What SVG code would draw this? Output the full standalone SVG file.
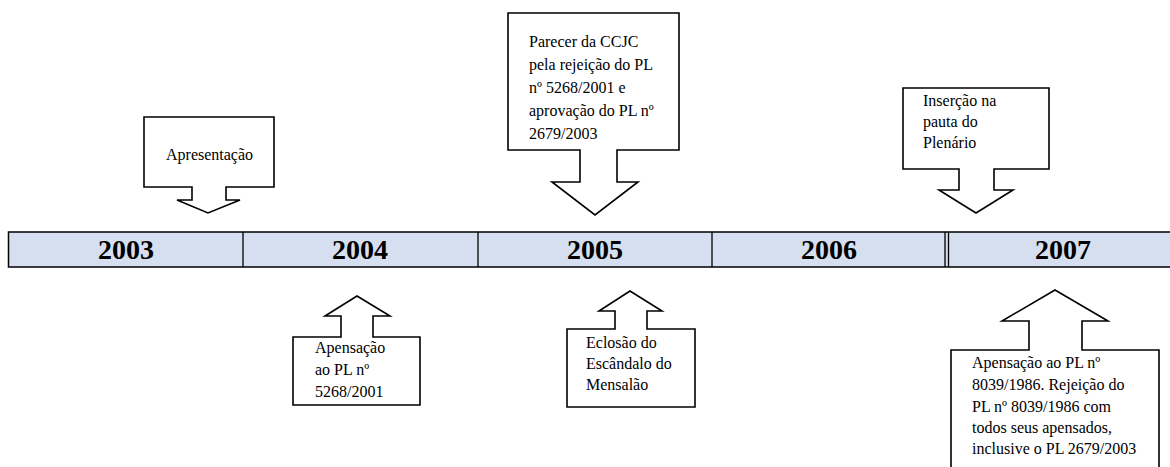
<svg xmlns="http://www.w3.org/2000/svg" width="1170" height="467" viewBox="0 0 1170 467">
<style>
.co{fill:#fff;stroke:#000;stroke-width:1.6;stroke-linejoin:miter}
.t{font-family:"Liberation Serif","Times New Roman",serif;font-size:16px;fill:#000}
.yr{font-family:"Liberation Serif","Times New Roman",serif;font-size:28px;font-weight:bold;fill:#000;text-anchor:middle}
.cell{fill:#D5DFEF;stroke:#000;stroke-width:1.5}
.div{stroke:#000;stroke-width:1.3}
</style>
<rect width="1170" height="467" fill="#fff"/>
<g id="timeline">
<rect class="cell" x="8.5" y="232" width="1175" height="35"/>
<line class="div" x1="243" y1="232" x2="243" y2="267"/>
<line class="div" x1="478" y1="232" x2="478" y2="267"/>
<line class="div" x1="712" y1="232" x2="712" y2="267"/>
<line class="div" x1="945" y1="232" x2="945" y2="267"/>
<line class="div" x1="948.5" y1="232" x2="948.5" y2="267"/>
<text class="yr" x="126" y="259">2003</text>
<text class="yr" x="360" y="259">2004</text>
<text class="yr" x="595" y="259">2005</text>
<text class="yr" x="829" y="259">2006</text>
<text class="yr" x="1063" y="259">2007</text>
</g>
<g id="connectors"></g>
<g id="apresentacao">
<path class="co" d="M144,117 H274 V187 H226 V200 H240 L208,213 L177,200 H192 V187 H144 Z"/>
<text class="t" x="166" y="160">Apresentação</text>
</g>
<g id="parecer">
<path class="co" d="M508,13 H679 V150 H617 V182 H638 L595,215 L552,182 H580 V150 H508 Z"/>
<text class="t" x="529" y="47">Parecer da CCJC</text>
<text class="t" x="529" y="70">pela rejeição do PL</text>
<text class="t" x="529" y="93">nº 5268/2001 e</text>
<text class="t" x="529" y="116">aprovação do PL nº</text>
<text class="t" x="529" y="139">2679/2003</text>
</g>
<g id="insercao">
<path class="co" d="M903,88 H1049 V169 H994 V190 H1013 L976,213 L939,190 H959 V169 H903 Z"/>
<text class="t" x="923" y="106">Inserção na</text>
<text class="t" x="923" y="127">pauta do</text>
<text class="t" x="923" y="148">Plenário</text>
</g>
<g id="apensacao2004">
<path class="co" d="M293,337 H341 V316 H325 L357,296 L390,316 H373 V337 H420 V405 H293 Z"/>
<text class="t" x="315" y="353">Apensação</text>
<text class="t" x="315" y="375">ao PL nº</text>
<text class="t" x="315" y="397">5268/2001</text>
</g>
<g id="eclosao">
<path class="co" d="M567,329 H615 V311 H599 L630,291 L662,311 H647 V329 H695 V407 H567 Z"/>
<text class="t" x="586" y="348">Eclosão do</text>
<text class="t" x="586" y="369">Escândalo do</text>
<text class="t" x="586" y="390">Mensalão</text>
</g>
<g id="apensacao2007">
<path class="co" d="M951,480 V350 H1029 V321 H1002 L1055,290 L1108,321 H1082 V350 H1159 V480"/>
<text class="t" x="972" y="368">Apensação ao PL nº</text>
<text class="t" x="972" y="390">8039/1986. Rejeição do</text>
<text class="t" x="972" y="412">PL nº 8039/1986 com</text>
<text class="t" x="972" y="433">todos seus apensados,</text>
<text class="t" x="972" y="454">inclusive o PL 2679/2003</text>
</g>
</svg>
